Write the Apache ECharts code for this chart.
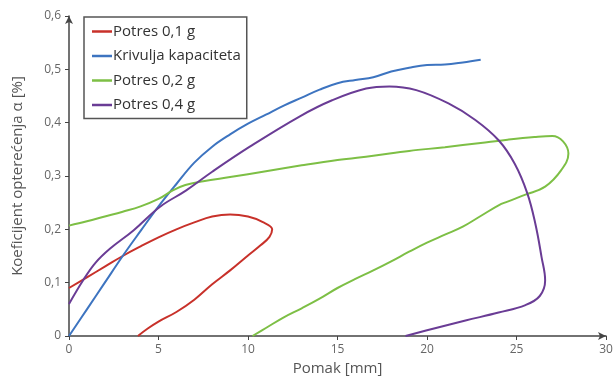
<!DOCTYPE html>
<html><head><meta charset="utf-8">
<script src="https://cdn.jsdelivr.net/npm/echarts@6/dist/echarts.min.js"></script>
<style>html,body{margin:0;padding:0;background:#fff}#c{width:616px;height:383px}</style>
</head><body><div id="c"></div>
<script>
const seriesNames = ['Potres 0,1 g', 'Krivulja kapaciteta', 'Potres 0,2 g', 'Potres 0,4 g'];
const xTicks = [0, 5, 10, 15, 20, 25, 30];
const yTicks = [0, 0.1, 0.2, 0.3, 0.4, 0.5, 0.6];
const potres01 = [[0,0.09],[1,0.11],[2,0.13],[3,0.15],[4,0.168],[5,0.185],[6,0.2],[7,0.213],[8,0.224],[9,0.228],[10,0.224],[10.8,0.214],[11.35,0.2],[11.2,0.186],[10.7,0.17],[10,0.151],[9,0.123],[8,0.097],[7,0.068],[6,0.045],[5,0.027],[4.4,0.014],[3.85,0]];
const kapacitet = [[0,0],[1,0.05],[2,0.1],[3,0.15],[4,0.197],[5,0.243],[6,0.285],[7,0.325],[8,0.355],[9,0.378],[10,0.398],[11,0.415],[12,0.432],[13,0.447],[14,0.462],[15,0.474],[16,0.48],[17,0.485],[18,0.496],[19,0.503],[20,0.508],[21,0.509],[22,0.513],[23,0.518]];
const potres02 = [[0,0.207],[1,0.215],[2,0.224],[3,0.233],[4,0.243],[5,0.257],[5.8,0.273],[6.5,0.283],[7.5,0.29],[9,0.298],[11,0.309],[13,0.32],[15,0.33],[17,0.338],[19,0.347],[21,0.354],[23,0.362],[24.5,0.368],[26,0.373],[27,0.375],[27.6,0.365],[27.9,0.342],[27.5,0.311],[26.6,0.28],[25.5,0.265],[24.5,0.252],[24,0.245],[23,0.225],[22,0.205],[21,0.19],[20,0.175],[19,0.158],[18,0.14],[17,0.123],[16,0.107],[15,0.09],[14,0.07],[13,0.052],[12,0.035],[11,0.015],[10.25,0]];
const potres04 = [[0,0.06],[0.8,0.105],[1.5,0.138],[2.3,0.164],[3.6,0.198],[5.07,0.242],[6.55,0.273],[8,0.308],[10.1,0.355],[12.9,0.412],[14.7,0.442],[16.6,0.464],[17.9,0.468],[19.4,0.461],[21.2,0.436],[22.7,0.405],[24,0.367],[24.9,0.323],[25.6,0.268],[26.05,0.211],[26.4,0.148],[26.6,0.104],[26.3,0.075],[25.5,0.058],[24,0.044],[22.15,0.029],[20.5,0.015],[18.8,0]];
const colors = ['#c8312a', '#3d74c0', '#7dbf45', '#6a3c95'];
const dataSets = [potres01, kapacitet, potres02, potres04];

const chart = echarts.init(document.getElementById('c'));
const fmt = v => String(v).replace('.', ',');
chart.setOption({
  animation: false,
  textStyle: { fontFamily: 'Open Sans' },
  grid: { left: 69, right: 10, top: 16, bottom: 47 },
  legend: {
    orient: 'vertical', left: 84, top: 17,
    data: seriesNames,
    borderColor: '#555', borderWidth: 1.5,
    padding: [7, 6, 6, 8],
    icon: 'rect',
    itemWidth: 20, itemHeight: 2.5, itemGap: 9.5,
    textStyle: { fontSize: 15, color: '#333', padding: [0, 0, 0, -4] }
  },
  xAxis: {
    type: 'value', min: 0, max: 30, interval: 5,
    name: 'Pomak [mm]', nameLocation: 'middle', nameGap: 25,
    nameTextStyle: { fontSize: 15, color: '#555' },
    axisLine: { lineStyle: { color: '#444', width: 1.5 }, symbol: ['none', 'arrow'], symbolSize: [6, 8] },
    axisTick: { show: true, length: 4, lineStyle: { color: '#444' } },
    splitLine: { show: false },
    axisLabel: { fontSize: 12, color: '#666', formatter: v => xTicks.includes(v) ? fmt(v) : '' }
  },
  yAxis: {
    type: 'value', min: 0, max: 0.6, interval: 0.1,
    name: 'Koeficijent opterećenja α [%]', nameLocation: 'middle', nameGap: 44,
    nameTextStyle: { fontSize: 15, color: '#555' },
    axisLine: { show: true, lineStyle: { color: '#444', width: 1.5 }, symbol: ['none', 'arrow'], symbolSize: [6, 8] },
    axisTick: { show: true, length: 4, lineStyle: { color: '#444' } },
    splitLine: { show: false },
    axisLabel: { fontSize: 12, color: '#666', formatter: v => fmt(Math.round(v * 10) / 10) }
  },
  series: seriesNames.map((n, i) => ({
    name: n, type: 'line', data: dataSets[i], smooth: 0.4,
    showSymbol: false, symbol: 'none',
    lineStyle: { color: colors[i], width: 2 },
    itemStyle: { color: colors[i] }
  }))
});
</script></body></html>
